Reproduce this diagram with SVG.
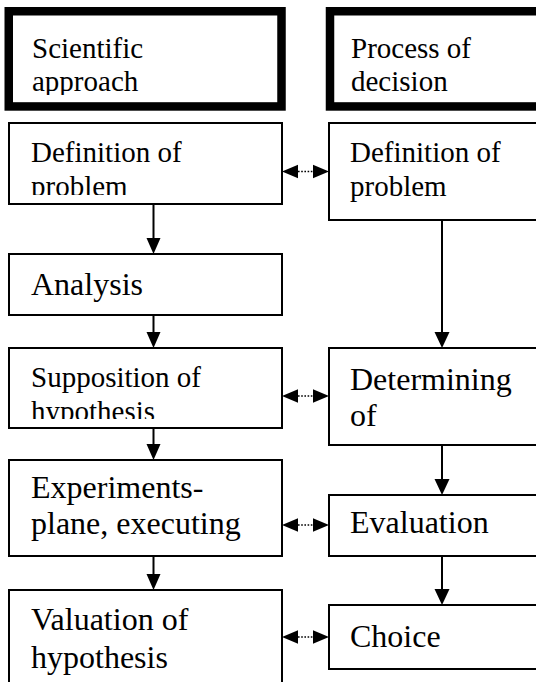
<svg xmlns="http://www.w3.org/2000/svg" width="536" height="682" viewBox="0 0 536 682">
<style>
.box{fill:#fff;stroke:#000;stroke-width:2}
.hdr{fill:#fff;stroke:#000;stroke-width:8.5}
.t{font-family:"Liberation Serif","Times New Roman",serif;fill:#000}
.s{font-size:29px}
.b{font-size:32px}
.ln{stroke:#000;stroke-width:2;fill:none}
.dot{stroke:#000;stroke-width:1.6;stroke-dasharray:1.6 1.6;fill:none}
.ah{fill:#000}
</style>
<defs>
<clipPath id="cHL"><rect x="13" y="16" width="264" height="79"/></clipPath>
<clipPath id="cHR"><rect x="334" y="16" width="210" height="79"/></clipPath>
<clipPath id="c1L"><rect x="10" y="124" width="271" height="71"/></clipPath>
<clipPath id="c3L"><rect x="10" y="349" width="271" height="70"/></clipPath>
</defs>
<rect width="536" height="682" fill="#fff"/>

<g id="header-scientific">
<rect class="hdr" x="8.75" y="11.25" width="272.75" height="95.2"/>
<g clip-path="url(#cHL)">
<text class="t s" x="32" y="58">Scientific</text>
<text class="t s" x="32" y="91">approach</text>
</g>
</g>
<g id="header-decision">
<rect class="hdr" x="330" y="11.25" width="230" height="95.2"/>
<g clip-path="url(#cHR)">
<text class="t s" x="351" y="58">Process of</text>
<text class="t s" x="351" y="91">decision</text>
</g>
</g>

<g id="n-def-left">
<rect class="box" x="9" y="123" width="273" height="81"/>
<g clip-path="url(#c1L)">
<text class="t s" x="31" y="162">Definition of</text>
<text class="t s" x="31" y="196">problem</text>
</g>
</g>
<g id="n-def-right">
<rect class="box" x="329" y="123" width="240" height="97"/>
<text class="t s" x="350" y="162">Definition of</text>
<text class="t s" x="350" y="196">problem</text>
</g>
<g id="n-analysis">
<rect class="box" x="9" y="254" width="273" height="61"/>
<text class="t b" x="31" y="295">Analysis</text>
</g>
<g id="n-supposition">
<rect class="box" x="9" y="348" width="273" height="80"/>
<g clip-path="url(#c3L)">
<text class="t s" x="31" y="387">Supposition of</text>
<text class="t s" x="31" y="421">hypothesis</text>
</g>
</g>
<g id="n-determining">
<rect class="box" x="329" y="348" width="240" height="97"/>
<text class="t b" x="350" y="390">Determining</text>
<text class="t b" x="350" y="426">of</text>
</g>
<g id="n-experiments">
<rect class="box" x="9" y="460" width="273" height="96"/>
<text class="t b" x="31" y="498">Experiments-</text>
<text class="t b" x="31" y="534">plane, executing</text>
</g>
<g id="n-evaluation">
<rect class="box" x="329" y="495" width="240" height="61"/>
<text class="t b" x="350" y="533">Evaluation</text>
</g>
<g id="n-valuation">
<rect class="box" x="9" y="590" width="273" height="120"/>
<text class="t b" x="31" y="630">Valuation of</text>
<text class="t b" x="31" y="668">hypothesis</text>
</g>
<g id="n-choice">
<rect class="box" x="329" y="605" width="240" height="64"/>
<text class="t b" x="350" y="647">Choice</text>
</g>

<g id="connectors">
<line class="ln" x1="153.5" y1="204" x2="153.5" y2="240"/>
<polygon class="ah" points="146.5,238 160.5,238 153.5,254"/>
<line class="ln" x1="153.5" y1="315" x2="153.5" y2="334"/>
<polygon class="ah" points="146.5,332 160.5,332 153.5,348"/>
<line class="ln" x1="153.5" y1="428" x2="153.5" y2="446"/>
<polygon class="ah" points="146.5,444 160.5,444 153.5,460"/>
<line class="ln" x1="153.5" y1="556" x2="153.5" y2="576"/>
<polygon class="ah" points="146.5,574 160.5,574 153.5,590"/>
<line class="ln" x1="442" y1="220" x2="442" y2="334"/>
<polygon class="ah" points="434.5,332 449.5,332 442,348"/>
<line class="ln" x1="442" y1="445" x2="442" y2="481"/>
<polygon class="ah" points="434.5,479 449.5,479 442,495"/>
<line class="ln" x1="442" y1="556" x2="442" y2="591"/>
<polygon class="ah" points="434.5,589 449.5,589 442,605"/>
<line class="dot" x1="298" y1="171.5" x2="313" y2="171.5"/>
<polygon class="ah" points="282,171.5 298,164.8 298,178.2"/>
<polygon class="ah" points="329,171.5 313,164.8 313,178.2"/>
<line class="dot" x1="298" y1="396" x2="313" y2="396"/>
<polygon class="ah" points="282,396 298,389.3 298,402.7"/>
<polygon class="ah" points="329,396 313,389.3 313,402.7"/>
<line class="dot" x1="298" y1="525" x2="313" y2="525"/>
<polygon class="ah" points="282,525 298,518.3 298,531.7"/>
<polygon class="ah" points="329,525 313,518.3 313,531.7"/>
<line class="dot" x1="298" y1="637" x2="313" y2="637"/>
<polygon class="ah" points="282,637 298,630.3 298,643.7"/>
<polygon class="ah" points="329,637 313,630.3 313,643.7"/>
</g>
</svg>
